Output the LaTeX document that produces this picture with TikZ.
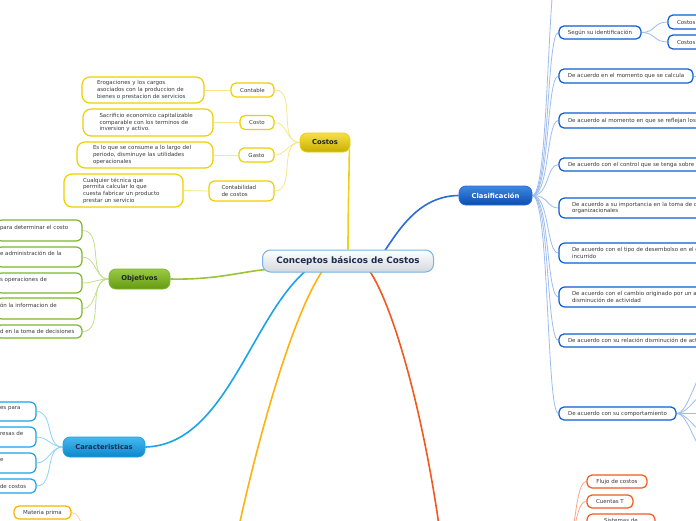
\documentclass[tikz,border=0pt]{standalone}
\usepackage{fontspec}
\setmainfont{DejaVu Sans}
\usetikzlibrary{calc}
\pgfdeclarelayer{bg}
\pgfsetlayers{bg,main}
\definecolor{txt}{HTML}{3A3A3A}
\definecolor{ctitle}{HTML}{1B2B4F}
\definecolor{tdark}{HTML}{1E2430}
\definecolor{cbord}{HTML}{79B3E3}
\definecolor{cbot}{HTML}{D3D9DF}
\definecolor{ylw}{HTML}{EFCF00}
\definecolor{ylwl}{HTML}{F6E78A}
\definecolor{ylwT}{HTML}{F5E04A}
\definecolor{ylwB}{HTML}{C9AE00}
\definecolor{ylwM}{HTML}{E8D21A}
\definecolor{grn}{HTML}{7DB72A}
\definecolor{grnl}{HTML}{C3DE8E}
\definecolor{grnT}{HTML}{9ACB42}
\definecolor{grnB}{HTML}{659A12}
\definecolor{grnM}{HTML}{9CC33B}
\definecolor{cyn}{HTML}{1AA3E8}
\definecolor{cynl}{HTML}{90D3F5}
\definecolor{cynT}{HTML}{45B9F0}
\definecolor{cynB}{HTML}{0C86CB}
\definecolor{blu}{HTML}{0B5DD3}
\definecolor{blul}{HTML}{9DBDEF}
\definecolor{bluT}{HTML}{3D87E2}
\definecolor{bluB}{HTML}{0A4DB3}
\definecolor{bluM}{HTML}{2A6CD8}
\definecolor{rdo}{HTML}{F2591F}
\definecolor{rdol}{HTML}{F8A688}
\definecolor{amb}{HTML}{FFB20F}
\definecolor{ambl}{HTML}{FFD681}
\definecolor{ambB}{HTML}{F5B400}
\begin{document}
\begin{tikzpicture}[x=1pt,y=-1pt,
  leaf/.style={draw, fill=white, line width=1.2pt, rounded corners=5pt, text=txt,
    font=\fontsize{5.5}{6.6}\selectfont, inner sep=0pt, align=left},
  bigleaf/.style={leaf, rounded corners=8pt},
  topic/.style={line width=0.8pt, rounded corners=7pt, inner sep=0pt, text=tdark,
    font=\fontsize{6.8}{8}\selectfont\bfseries},
  central/.style={draw=cbord, line width=1pt, top color=white, bottom color=cbot,
    rounded corners=8pt, minimum width=171pt, minimum height=22pt, inner sep=0pt,
    text=ctitle, font=\fontsize{8.8}{10}\selectfont\bfseries},
  mainline/.style={line width=1.6pt},
  subline/.style={line width=0.8pt}
]
\useasboundingbox (0,0) rectangle (696,520);
\clip (0,0) rectangle (696,520);

% central
\node[central] (c) at (348,261) {Conceptos básicos de Costos};

% Costos branch
\node[topic, draw=ylw, top color=ylwT, bottom color=ylwB, minimum width=50pt, minimum height=19pt] (costos) at (325,142.5) {Costos};
\node[leaf, draw=ylw, minimum width=43pt, minimum height=14pt, align=center] (contable) at (252.5,90) {Contable};
\node[leaf, draw=ylw, minimum width=34pt, minimum height=14pt, align=center] (costo) at (257,122.5) {Costo};
\node[leaf, draw=ylw, minimum width=35pt, minimum height=14pt, align=center] (gasto) at (256.5,155) {Gasto};
\node[leaf, rounded corners=6pt, draw=ylw, minimum width=65pt, minimum height=20pt, text width=40pt] (contab) at (241.5,191) {Contabilidad\\de costos};
\node[bigleaf, draw=ylw, minimum width=122pt, minimum height=26pt, text width=92pt] (erog) at (143,90) {Erogaciones y los cargos\\asociados con la produccion de\\bienes o prestacion de servicios};
\node[bigleaf, draw=ylw, minimum width=130pt, minimum height=27pt, text width=97pt] (sacr) at (148,122.5) {Sacrificio economico capitalizable\\comparable con los terminos de\\inversion y activo.};
\node[bigleaf, draw=ylw, minimum width=136pt, minimum height=26pt, text width=104pt] (eslo) at (145,155) {Es lo que se consume a lo largo del\\periodo, disminuye las utilidades\\operacionales};
\node[bigleaf, draw=ylw, minimum width=119pt, minimum height=33pt, text width=81pt] (cualq) at (123.5,190.5) {Cualquier técnica que\\permita calcular lo que\\cuesta fabricar un producto\\prestar un servicio};

% Objetivos branch
\node[topic, draw=grn, top color=grnT, bottom color=grnB, minimum width=61pt, minimum height=20pt] (obj) at (139.5,279) {Objetivos};
\node[leaf, rounded corners=6pt, draw=grn, minimum width=86pt, minimum height=21pt, text width=78pt] (o1) at (39,230.5) {para determinar el costo\\\mbox{}};
\node[leaf, rounded corners=6pt, draw=grn, minimum width=86pt, minimum height=20pt, text width=78pt] (o2) at (39,257) {e administración de la\\\mbox{}};
\node[leaf, rounded corners=6pt, draw=grn, minimum width=86pt, minimum height=20pt, text width=78pt] (o3) at (39,283) {s operaciones de\\\mbox{}};
\node[leaf, rounded corners=6pt, draw=grn, minimum width=86pt, minimum height=21pt, text width=78pt] (o4) at (39,308.5) {ón la informacion de\\\mbox{}};
\node[leaf, draw=grn, minimum width=86pt, minimum height=13pt, text width=78pt] (o5) at (39,331.5) {d en la toma de decisiones};

% Caracteristicas branch
\node[topic, draw=cyn, top color=cynT, bottom color=cynB, minimum width=82pt, minimum height=20pt, text=ctitle] (car) at (104,447) {Caracteristicas};
\node[leaf, rounded corners=6pt, draw=cyn, minimum width=42pt, minimum height=19pt, text width=30pt] (k1) at (15,411.5) {es para\\\mbox{}};
\node[leaf, rounded corners=6pt, draw=cyn, minimum width=42pt, minimum height=20pt, text width=30pt] (k2) at (15,437) {resas de\\\mbox{}};
\node[leaf, rounded corners=6pt, draw=cyn, minimum width=42pt, minimum height=20pt, text width=30pt] (k3) at (15,463) {e\\\mbox{}};
\node[leaf, draw=cyn, minimum width=42pt, minimum height=14pt, text width=30pt] (k4) at (15,486) {de costos};

% amber branch leaf
\node[leaf, draw=ambB, minimum width=57pt, minimum height=13pt, align=center] (mp) at (42.5,512.5) {Materia prima};

% Clasificacion branch
\node[topic, draw=bluM, top color=bluT, bottom color=bluB, text=white, minimum width=73pt, minimum height=19pt] (clas) at (495.5,195.5) {Clasificación};
\node[leaf, draw=blu, minimum width=82pt, minimum height=13pt, align=center] (s1) at (600,32.5) {Según su identificación};
\node[leaf, draw=blu, minimum width=78pt, minimum height=14pt, text width=60pt] (s1a) at (707,22) {Costos};
\node[leaf, draw=blu, minimum width=78pt, minimum height=14pt, text width=60pt] (s1b) at (707,42) {Costos};
\node[leaf, draw=blu, minimum width=134pt, minimum height=14pt, align=center] (s2) at (626,76) {De acuerdo en el momento que se calcula};
\node[leaf, draw=blu, minimum width=218pt, minimum height=15pt, text width=200pt] (s3) at (668,120.5) {De acuerdo al momento en que se reflejan los};
\node[leaf, draw=blu, minimum width=218pt, minimum height=13pt, text width=200pt] (s4) at (668,164.5) {De acuerdo con el control que se tenga sobre};
\node[leaf, rounded corners=6pt, draw=blu, minimum width=226pt, minimum height=20pt, text width=200pt] (s5) at (672,208) {De acuerdo a su importancia en la toma de decisiones\\organizacionales};
\node[leaf, rounded corners=6pt, draw=blu, minimum width=226pt, minimum height=20pt, text width=200pt] (s6) at (672,253) {De acuerdo con el tipo de desembolso en el cual\\incurrido};
\node[leaf, rounded corners=6pt, draw=blu, minimum width=226pt, minimum height=20pt, text width=200pt] (s7) at (672,297) {De acuerdo con el cambio originado por un aumento\\disminución de actividad};
\node[leaf, draw=blu, minimum width=218pt, minimum height=13pt, text width=200pt] (s8) at (668,340.5) {De acuerdo con su relación disminución de actividad};
\node[leaf, draw=blu, minimum width=117pt, minimum height=13pt, align=center] (s9) at (617.5,413.5) {De acuerdo con su comportamiento};

% red branch leaves
\node[leaf, draw=rdo, minimum width=60pt, minimum height=13pt, align=center] (r1) at (617,481.5) {Flujo de costos};
\node[leaf, draw=rdo, minimum width=46pt, minimum height=13pt, align=center] (r2) at (610,501.5) {Cuentas T};
\node[leaf, rounded corners=6pt, draw=rdo, minimum width=68pt, minimum height=20pt, align=center] (r3) at (621,524) {Sistemas de\\costos};

% free ends of connectors that leave the picture
\coordinate (ambN) at (236,540);
\coordinate (redN) at (441,540);
\coordinate (ambP) at (95,545);
\coordinate (redP) at (566,545);
\coordinate (sTop) at (559,-40);
\coordinate (tA) at (684,-22);
\coordinate (tB) at (706,8);
\coordinate (s2c) at (712,76);
\coordinate (v1) at (706,371);
\coordinate (v2) at (706,394);
\coordinate (v3) at (706,413.5);
\coordinate (v4) at (706,433);
\coordinate (v5) at (706,452);

\begin{pgfonlayer}{bg}
\clip (0,0) rectangle (696,520);
\fill[white] (0,0) rectangle (696,520);
% main branches
\draw[mainline, ylwM] (c.north) .. controls (348,215) and (349,180) .. ($(costos.south east)+(-1,-3)$);
\draw[mainline, grnM] (obj.east) .. controls (215,280) and (240,272) .. ($(c.south west)+(4,-3)$);
\draw[mainline, cyn] ($(c.south)+(-43,-1)$) .. controls (250,320) and (225,445) .. (car.east);
\draw[mainline, amb] ($(c.south)+(-26,-1)$) .. controls (290,320) and (255,450) .. (ambN);
\draw[mainline, rdo] ($(c.south)+(22,-1)$) .. controls (395,310) and (425,420) .. (redN);
\draw[mainline, bluM] ($(c.north)+(37,1)$) .. controls (400,228) and (420,196) .. (clas.west);

% Costos sub-connectors
\foreach \n in {contable,costo,gasto,contab}
  \draw[subline, ylwl] (costos.west) to[out=180,in=0] (\n.east);
\draw[subline, ylwl] (contable.west) -- (erog.east);
\draw[subline, ylwl] (costo.west) -- (sacr.east);
\draw[subline, ylwl] (gasto.west) -- (eslo.east);
\draw[subline, ylwl] (contab.west) -- (cualq.east);

% Objetivos
\foreach \n in {o1,o2,o3,o4,o5}
  \draw[subline, grnl] (obj.west) to[out=180,in=0] (\n.east);
% Caracteristicas
\foreach \n in {k1,k2,k3,k4}
  \draw[subline, cynl] (car.west) to[out=180,in=0] (\n.east);
% amber
\draw[subline, ambl] (ambP) .. controls +(-12,0) and +(12,0) .. (mp.east);

% Clasificacion
\foreach \n in {sTop,s1,s2,s3,s4,s5,s6,s7,s8,s9}
  \draw[subline, blul] (clas.east) .. controls +(17,0) and +(-12,0) .. (\n.west);
\draw[subline, blul] (s1.east) .. controls +(14,0) and +(-14,0) .. (s1a.west);
\draw[subline, blul] (s1.east) .. controls +(14,0) and +(-14,0) .. (s1b.west);
\draw[subline, blul] (s2.east) -- (s2c);
\draw[subline, blul] (tA) .. controls +(10,0) and +(-10,0) .. (tB);
\foreach \n in {v1,v2,v3,v4,v5}
  \draw[subline, blul] (s9.east) .. controls +(12,0) and +(-10,0) .. (\n);

% red
\foreach \n in {r1,r2,r3}
  \draw[subline, rdol] (redP) .. controls +(10,0) and +(-12,0) .. (\n.west);
\end{pgfonlayer}
\end{tikzpicture}
\end{document}
